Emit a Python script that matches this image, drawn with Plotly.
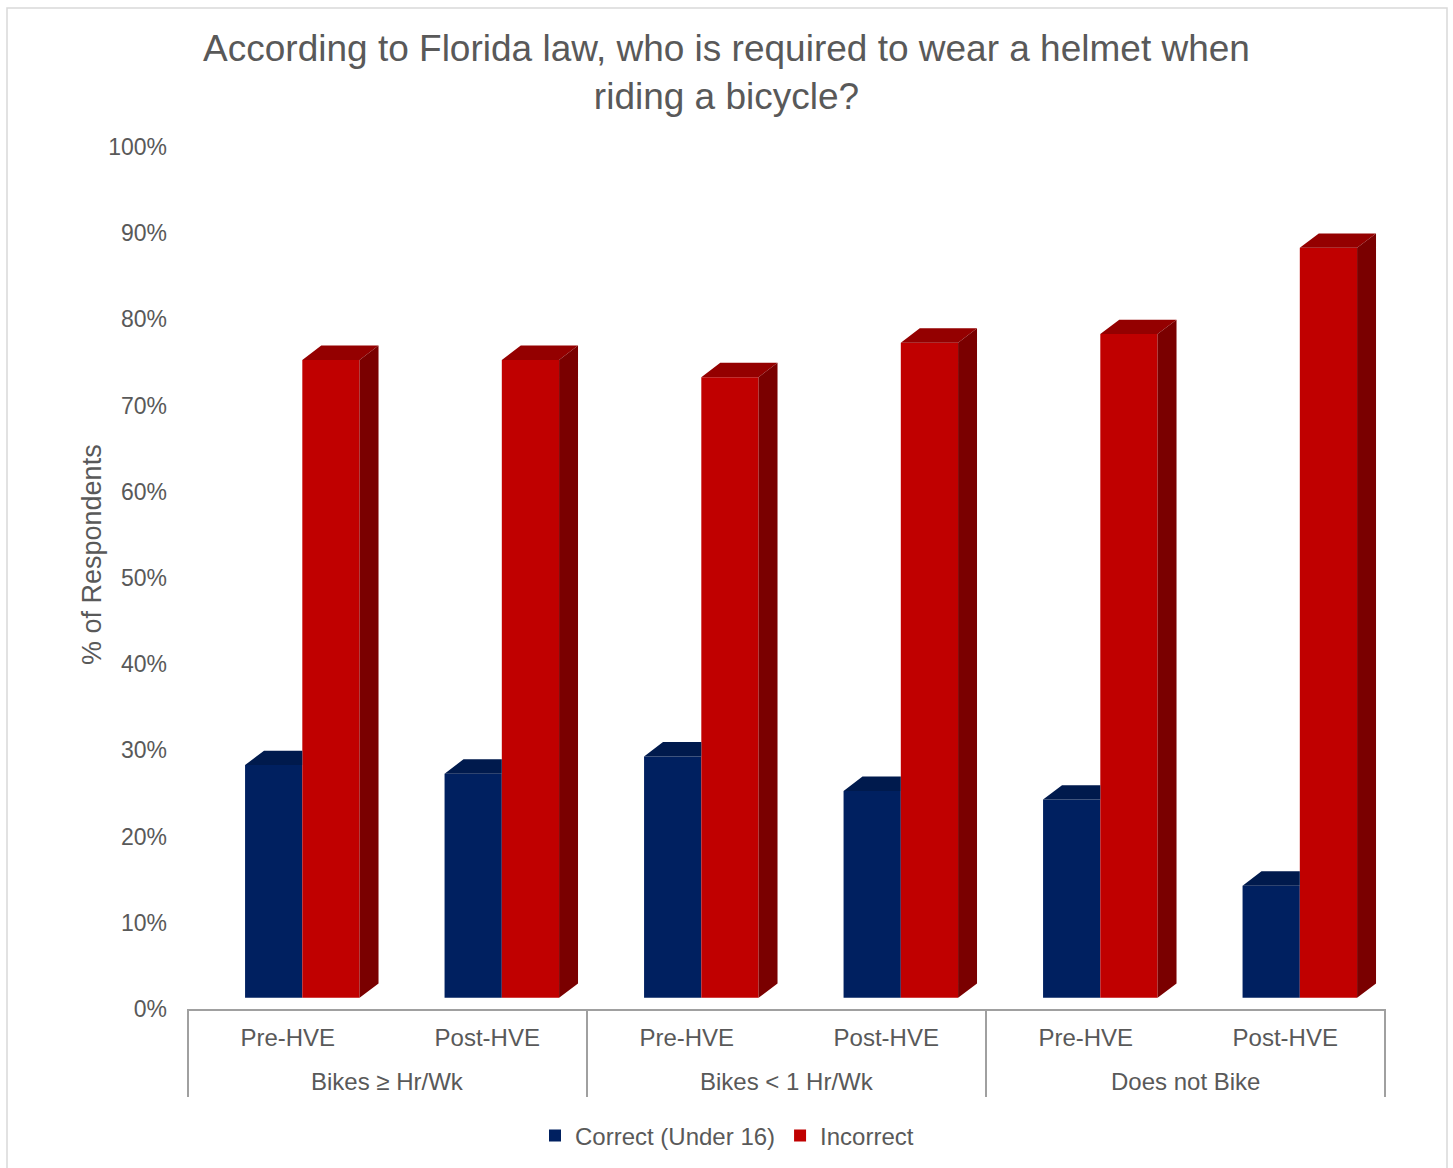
import plotly.graph_objects as go

# --- data -----------------------------------------------------------------
periods = ["Pre-HVE", "Post-HVE", "Pre-HVE", "Post-HVE", "Pre-HVE", "Post-HVE"]
groups = ["Bikes \u2265 Hr/Wk", "Bikes < 1 Hr/Wk", "Does not Bike"]
series_names = ["Correct (Under 16)", "Incorrect"]
correct = [27, 26, 28, 24, 23, 13]
incorrect = [74, 74, 72, 76, 77, 87]

# --- styling ---------------------------------------------------------------
FONT = "Liberation Sans, Arial, sans-serif"
TEXT = "#595959"
AXIS = "#a0a0a0"
BLUE = {"front": "#002060", "top": "#001a4d", "side": "#00143d"}
RED = {"front": "#C00000", "top": "#940000", "side": "#7a0000"}

# 3-D column geometry (axis units): floor depth, bar width / offsets, depth shift
FLOOR = 1.3
BAR_W = 0.287
OFFSETS = [-0.214, 0.073]
DX, DY = 0.095, 1.67

pos = list(range(len(periods)))
x_min, x_max = -0.5, len(periods) - 0.5

fig = go.Figure()


def add_column_series(values, offset, colors, name, hidden_right=None):
    # front face drawn as a regular bar trace
    fig.add_trace(go.Bar(
        x=pos, y=values, base=FLOOR, width=BAR_W, offset=offset,
        marker=dict(color=colors["front"], line=dict(width=0)),
        name=name, hovertemplate="%{y}%<extra>" + name + "</extra>",
    ))
    top_x, top_y, side_x, side_y = [], [], [], []
    for i, v in enumerate(values):
        x0 = pos[i] + offset
        x1 = x0 + BAR_W
        t = FLOOR + v
        covered = hidden_right is not None and hidden_right[i] >= v
        if covered:
            # the neighbouring taller column hides everything right of x1
            top_x += [x0, x1, x1, x0 + DX, x0, None]
            top_y += [t, t, t + DY, t + DY, t, None]
        else:
            top_x += [x0, x1, x1 + DX, x0 + DX, x0, None]
            top_y += [t, t, t + DY, t + DY, t, None]
            side_x += [x1, x1 + DX, x1 + DX, x1, x1, None]
            side_y += [FLOOR, FLOOR + DY, t + DY, t, FLOOR, None]
    for xs, ys, col in ((top_x, top_y, colors["top"]), (side_x, side_y, colors["side"])):
        if xs:
            fig.add_trace(go.Scatter(
                x=xs, y=ys, fill="toself", fillcolor=col, mode="lines",
                line=dict(width=0, color=col), hoverinfo="skip", showlegend=False,
            ))


add_column_series(correct, OFFSETS[0], BLUE, series_names[0], hidden_right=incorrect)
add_column_series(incorrect, OFFSETS[1], RED, series_names[1])

# --- layout ------------------------------------------------------------------
W, H = 1453, 1168
M_L, M_R, M_T, M_B = 188, 68, 147, 159
plot_w = W - M_L - M_R
plot_h = H - M_T - M_B


def px_to_paper_y(py):
    return (H - M_B - py) / plot_h


def px_to_paper_x(px):
    return (px - M_L) / plot_w


shapes = []
# group dividers below the category axis
n_per_group = len(periods) // len(groups)
for g in range(len(groups) + 1):
    bx = x_min + g * n_per_group
    xp = (bx - x_min) / (x_max - x_min)
    shapes.append(dict(type="line", xref="paper", yref="paper",
                       x0=xp, x1=xp, y0=0, y1=px_to_paper_y(1097),
                       line=dict(color=AXIS, width=2)))
# chart frame
shapes.append(dict(type="rect", xref="paper", yref="paper",
                   x0=px_to_paper_x(7), x1=px_to_paper_x(1447),
                   y0=px_to_paper_y(1180), y1=px_to_paper_y(8),
                   line=dict(color="#d9d9d9", width=1.5), fillcolor="rgba(0,0,0,0)"))

annotations = []
for g, label in enumerate(groups):
    cx = x_min + g * n_per_group + n_per_group / 2
    annotations.append(dict(
        x=cx, xref="x", y=px_to_paper_y(1081), yref="paper",
        text=label, showarrow=False, xanchor="center", yanchor="middle",
        font=dict(family=FONT, size=24, color=TEXT),
    ))
# value-axis title
annotations.append(dict(
    x=px_to_paper_x(92), xref="paper", y=px_to_paper_y(555), yref="paper",
    text="% of Respondents", textangle=-90, showarrow=False,
    xanchor="center", yanchor="middle",
    font=dict(family=FONT, size=27, color=TEXT),
))

fig.update_layout(
    width=W, height=H, autosize=False,
    margin=dict(l=M_L, r=M_R, t=M_T, b=M_B),
    paper_bgcolor="white", plot_bgcolor="white",
    barmode="overlay",
    font=dict(family=FONT, color=TEXT),
    title=dict(
        text="According to Florida law, who is required to wear a helmet when<br>riding a bicycle?",
        x=0.5, xref="container", xanchor="center",
        y=1 - 61 / H, yref="container", yanchor="middle",
        font=dict(family=FONT, size=37, color=TEXT),
    ),
    xaxis=dict(
        range=[x_min, x_max], tickvals=pos, ticktext=periods,
        showline=True, linecolor=AXIS, linewidth=2, ticks="",
        showgrid=False, zeroline=False, ticklabelstandoff=6,
        tickfont=dict(family=FONT, size=24, color=TEXT), fixedrange=True,
    ),
    yaxis=dict(
        range=[0, 100], tickvals=list(range(0, 101, 10)),
        ticktext=[f"{v}%" for v in range(0, 101, 10)],
        showline=False, showgrid=False, zeroline=False, ticks="",
        ticklabelstandoff=20,
        tickfont=dict(family=FONT, size=23, color=TEXT),
        fixedrange=True,
    ),
    legend=dict(
        orientation="h", xref="container", yref="container",
        x=727 / W, xanchor="center", y=1 - 1136 / H, yanchor="middle",
        font=dict(family=FONT, size=24, color=TEXT), itemwidth=30,
        traceorder="normal",
    ),
    shapes=shapes,
    annotations=annotations,
    showlegend=True,
)

fig.write_html("out.html")
